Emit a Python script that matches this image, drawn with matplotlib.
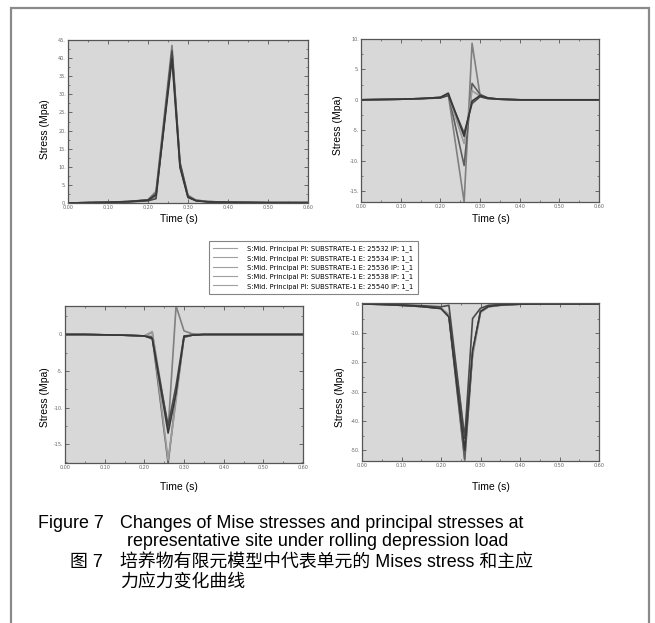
import matplotlib
matplotlib.use('Agg')
import matplotlib.pyplot as plt
from matplotlib.patches import Rectangle
from matplotlib.ticker import MultipleLocator, FormatStrFormatter

# time samples (s)
time = [0, 0.05, 0.10, 0.15, 0.20, 0.22, 0.26, 0.28, 0.30, 0.32, 0.35, 0.40, 0.50, 0.60]

series_names = [
    'S:Mid. Principal PI: SUBSTRATE-1 E: 25532 IP: 1_1',
    'S:Mid. Principal PI: SUBSTRATE-1 E: 25534 IP: 1_1',
    'S:Mid. Principal PI: SUBSTRATE-1 E: 25536 IP: 1_1',
    'S:Mid. Principal PI: SUBSTRATE-1 E: 25538 IP: 1_1',
    'S:Mid. Principal PI: SUBSTRATE-1 E: 25540 IP: 1_1',
]

# top-left: Mises stress
mises = [
    [0, 0.1, 0.2, 0.4, 0.9, 3.2, 43.5, 10.6, 1.8, 0.8, 0.4, 0.2, 0.1, 0.1],
    [0, 0.1, 0.2, 0.4, 0.8, 2.6, 41.5, 10.2, 1.5, 0.7, 0.4, 0.2, 0.1, 0.1],
    [0, 0.1, 0.2, 0.3, 0.7, 1.8, 40.5, 10.8, 2.2, 0.8, 0.4, 0.2, 0.1, 0.1],
    [0, 0.1, 0.2, 0.3, 0.6, 1.2, 42.0, 11.2, 1.9, 0.7, 0.3, 0.2, 0.1, 0.1],
    [0, 0.1, 0.2, 0.4, 0.8, 2.2, 39.8, 9.8, 1.6, 0.6, 0.3, 0.2, 0.1, 0.1],
]

# top-right: principal stress
princ_a = [
    [0, 0.05, 0.1, 0.2, 0.4, 0.9, -16.8, 9.3, 0.8, 0.3, 0.1, 0, 0, 0],
    [0, 0.05, 0.1, 0.2, 0.4, 1.0, -10.8, 2.7, 0.9, 0.3, 0.1, 0, 0, 0],
    [0, 0.05, 0.1, 0.2, 0.3, 0.8, -7.2, 1.5, 0.6, 0.2, 0.1, 0, 0, 0],
    [0, 0.05, 0.1, 0.2, 0.3, 0.7, -5.5, -0.6, 0.5, 0.2, 0.1, 0, 0, 0],
    [0, 0.05, 0.1, 0.2, 0.4, 1.1, -6.0, -0.2, 0.7, 0.3, 0.1, 0, 0, 0],
]

# bottom-left: principal stress
princ_b = [
    [0, 0, -0.05, -0.1, -0.2, 0.3, -13.0, 3.9, 0.5, 0.1, 0, 0, 0, 0],
    [0, 0, -0.05, -0.1, -0.2, -0.3, -17.6, -8.5, -0.4, -0.1, 0, 0, 0, 0],
    [0, 0, -0.05, -0.1, -0.2, 0.4, -17.2, -9.0, -0.3, -0.1, 0, 0, 0, 0],
    [0, 0, -0.05, -0.1, -0.2, -0.6, -12.5, -7.0, -0.2, -0.1, 0, 0, 0, 0],
    [0, 0, -0.05, -0.1, -0.2, -0.5, -13.5, -8.0, -0.3, -0.1, 0, 0, 0, 0],
]

# bottom-right: principal stress
princ_c = [
    [0, -0.2, -0.5, -0.9, -1.6, -4.2, -53.7, -17.0, -2.8, -1.0, -0.5, -0.1, 0, 0],
    [0, -0.2, -0.5, -0.9, -1.5, -4.0, -53.0, -16.5, -2.5, -0.9, -0.4, -0.1, 0, 0],
    [0, -0.2, -0.4, -0.8, -1.4, -3.5, -45.0, -18.0, -3.0, -1.0, -0.5, -0.1, 0, 0],
    [0, -0.1, -0.3, -0.6, -1.0, -0.5, -46.0, -5.0, -1.5, -0.5, -0.2, 0, 0, 0],
    [0, -0.2, -0.5, -0.9, -1.6, -4.5, -50.0, -16.0, -2.6, -0.9, -0.4, -0.1, 0, 0],
]

colors = ['#808080', '#5e5e5e', '#9c9c9c', '#4a4a4a', '#383838']

W, H = 655, 623
fig = plt.figure(figsize=(W / 100, H / 100), dpi=100)

# outer frame of the figure
fig.patches.append(Rectangle((11 / W, -0.02), 638 / W, 1 - 8 / H + 0.02,
                             transform=fig.transFigure, fill=False,
                             edgecolor='#8a8a8a', linewidth=1.6))


def px_box(left, top, right, bottom):
    return [left / W, 1 - bottom / H, (right - left) / W, (bottom - top) / H]


panels = [
    (px_box(68, 40, 308, 203), mises, (0, 45), 5, (179, 219), (45, 129)),
    (px_box(361, 39, 599, 202), princ_a, (-16.8, 10), 5, (491, 219), (338, 125)),
    (px_box(65, 306, 303, 463), princ_b, (-17.6, 3.9), 5, (179, 487), (45, 397)),
    (px_box(362, 303, 599, 461), princ_c, (-53.7, 0.3), 10, (491, 487), (340, 397)),
]

handles = []
for box, data, ylim, ystep, xlab, ylab in panels:
    ax = fig.add_axes(box)
    ax.set_facecolor('#d8d8d8')
    lines = []
    for vals, c in zip(data, colors):
        ln, = ax.plot(time, vals, color=c, linewidth=1.2)
        lines.append(ln)
    handles = lines
    ax.set_xlim(0, 0.6)
    ax.set_ylim(*ylim)
    ax.xaxis.set_major_locator(MultipleLocator(0.1))
    ax.xaxis.set_minor_locator(MultipleLocator(0.05))
    ax.yaxis.set_major_locator(MultipleLocator(ystep))
    ax.yaxis.set_minor_locator(MultipleLocator(ystep / 2))
    ax.xaxis.set_major_formatter(FormatStrFormatter('%.2f'))
    ax.yaxis.set_major_formatter(FormatStrFormatter('%g.'))
    ax.tick_params(which='both', direction='in', top=True, right=True,
                   labelsize=3.5, labelcolor='#666666', color='#555555', pad=1.5)
    ax.tick_params(which='major', length=3, width=0.6)
    ax.tick_params(which='minor', length=1.5, width=0.5)
    for s in ax.spines.values():
        s.set_color('#555555')
        s.set_linewidth(0.9)
    fig.text(xlab[0] / W, 1 - xlab[1] / H, 'Time (s)', ha='center', va='center',
             fontsize=7.5, family='Liberation Sans')
    fig.text(ylab[0] / W, 1 - ylab[1] / H, 'Stress (Mpa)', ha='center', va='center',
             rotation=90, fontsize=7.5, family='Liberation Sans')

leg = fig.legend(handles, series_names, loc='center',
                 bbox_to_anchor=(313.5 / W, 1 - 267.5 / H), fontsize=4.9,
                 frameon=True, fancybox=False, handlelength=3.5,
                 labelspacing=0.38, borderpad=0.6, handletextpad=1.5)
leg.get_frame().set_edgecolor('#666666')
leg.get_frame().set_linewidth(0.8)
for ln in leg.get_lines():
    ln.set_color('#a0a0a0')
    ln.set_linewidth(0.8)

cap = ['Liberation Sans', 'Noto Sans CJK SC']
fs = 12.9
fig.text(38 / W, 1 - 523 / H, 'Figure 7', fontsize=fs, family=cap, va='center')
fig.text(120 / W, 1 - 523 / H, 'Changes of Mise stresses and principal stresses at',
         fontsize=fs, family=cap, va='center')
fig.text(127 / W, 1 - 541 / H, 'representative site under rolling depression load',
         fontsize=fs, family=cap, va='center')
fig.text(70 / W, 1 - 563 / H, '图 7', fontsize=fs, family=cap, va='center')
fig.text(120 / W, 1 - 563 / H, '培养物有限元模型中代表单元的 Mises stress 和主应',
         fontsize=fs, family=cap, va='center')
fig.text(120 / W, 1 - 582 / H, '力应力变化曲线', fontsize=fs, family=cap, va='center')

fig.savefig('out.png', dpi=100)
